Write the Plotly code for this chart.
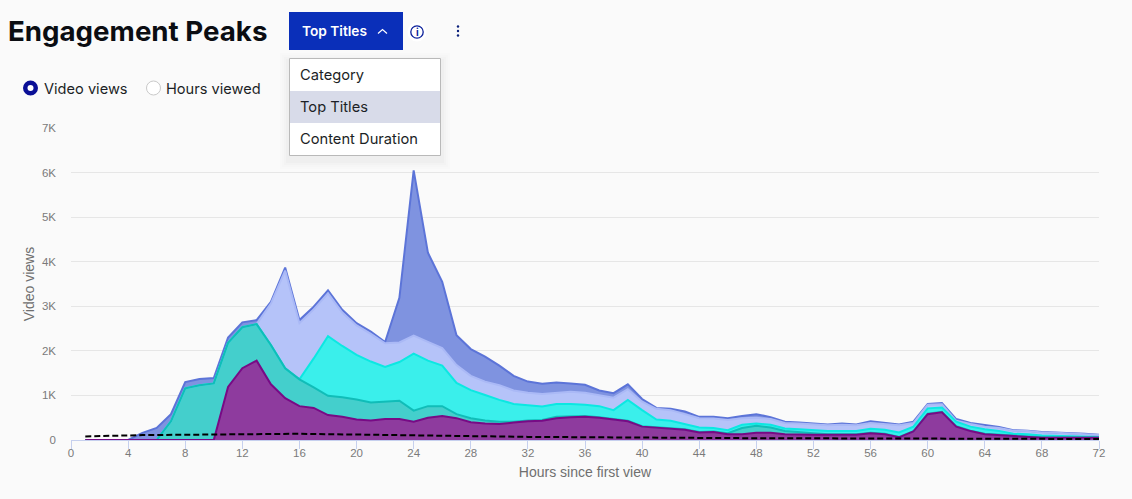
import plotly.graph_objects as go

hours = list(range(1, 73))

purple_top = [0,0,0,0,0,0,0,0,0,0,1.19,1.61,1.78,1.25,.94,.76,.72,.56,.52,.46,.44,.47,.47,.41,.50,.54,.49,.40,.37,.36,.39,.42,.43,.49,.51,.52,.50,.46,.42,.30,.28,.25,.23,.17,.18,.13,.13,.16,.16,.13,.12,.12,.12,.12,.12,.15,.13,.06,.19,.58,.62,.30,.20,.13,.11,.09,.08,.05,.05,.05,.05,.05]
teal_top = [0,0,0,0,0,0,.42,1.16,1.23,1.27,2.18,2.53,2.60,2.13,1.61,1.36,1.18,.99,.96,.91,.84,.86,.88,.66,.76,.76,.58,.49,.44,.41,.41,.44,.45,.52,.53,.54,.51,.47,.43,.31,.29,.26,.24,.18,.19,.15,.27,.32,.28,.20,.17,.15,.13,.13,.13,.16,.14,.07,.20,.59,.63,.31,.21,.14,.12,.10,.09,.06,.06,.06,.06,.06]
cyan_top = [0,0,0,0,0,0,.42,1.16,1.23,1.27,2.18,2.53,2.60,2.13,1.61,1.36,1.83,2.33,2.11,1.91,1.76,1.64,1.75,1.94,1.78,1.67,1.28,1.12,1.01,.90,.81,.78,.75,.81,.81,.79,.76,.67,.90,.67,.46,.43,.36,.28,.27,.22,.34,.37,.34,.26,.24,.22,.20,.20,.20,.25,.23,.17,.30,.71,.73,.41,.30,.24,.20,.14,.13,.10,.09,.08,.08,.07]
periwinkle_top = [0,0,0,0,0,0,.42,1.16,1.23,1.27,2.18,2.53,2.60,3.06,3.80,2.62,2.93,3.29,2.86,2.57,2.38,2.17,2.19,2.34,2.20,2.06,1.68,1.44,1.31,1.23,1.11,1.06,1.03,1.05,1.08,1.06,1.00,.95,1.14,.86,.70,.67,.58,.49,.48,.45,.49,.50,.47,.38,.37,.35,.33,.34,.33,.38,.36,.33,.38,.79,.80,.43,.36,.30,.27,.21,.20,.17,.16,.14,.13,.11]
blue_top = [0,0,0,0,.16,.27,.58,1.30,1.37,1.39,2.30,2.64,2.69,3.10,3.87,2.69,2.99,3.36,2.92,2.62,2.43,2.20,3.19,6.05,4.20,3.55,2.35,2.04,1.87,1.67,1.44,1.31,1.26,1.29,1.27,1.24,1.11,1.05,1.25,.92,.72,.70,.64,.52,.52,.49,.54,.58,.51,.41,.39,.37,.35,.37,.35,.42,.39,.35,.41,.81,.83,.47,.38,.33,.29,.22,.21,.18,.17,.15,.14,.12]
baseline = [.08,.09,.10,.105,.11,.112,.115,.117,.12,.125,.13,.135,.14,.14,.145,.14,.135,.13,.125,.12,.115,.11,.10,.10,.095,.09,.085,.08,.075,.075,.072,.07,.068,.065,.062,.06,.058,.055,.052,.05,.048,.045,.045,.042,.042,.04,.04,.04,.04,.04,.04,.04,.04,.04,.04,.04,.04,.04,.04,.04,.04,.038,.036,.034,.032,.03,.03,.028,.026,.024,.022,.02]

band_names = ["Title A", "Title B", "Title C", "Title D", "Title E"]
band_tops = [purple_top, teal_top, cyan_top, periwinkle_top, blue_top]
fill_colors = ["#8e3b9e", "#44cfcc", "#3aefeb", "#b5c3f9", "#7f93e0"]
line_colors = ["#780a85", "#10bdb8", "#0be8e2", "#aab9f6", "#5c74d8"]

x_ticks = list(range(0, 73, 4))
y_ticks = list(range(0, 8))
y_labels = ["0", "1K", "2K", "3K", "4K", "5K", "6K", "7K"]

W, H = 1132, 499
L, R, T, B = 71, 1099, 128, 440
def px(x): return (x - L) / (R - L)
def py(y): return (B - y) / (B - T)

fig = go.Figure()
for i, (name, top, c) in enumerate(zip(band_names, band_tops, fill_colors)):
    fig.add_trace(go.Scatter(x=hours, y=[v * 1000 for v in top], mode="lines", name=name,
                             line=dict(width=0), fillcolor=c,
                             fill="tozeroy" if i == 0 else "tonexty", showlegend=False))
for name, top, c in reversed(list(zip(band_names, band_tops, line_colors))):
    fig.add_trace(go.Scatter(x=hours, y=[v * 1000 for v in top], mode="lines", name=name,
                             line=dict(width=2, color=c), showlegend=False, hoverinfo="skip"))
fig.add_trace(go.Scatter(x=hours, y=[v * 1000 for v in baseline], mode="lines", name="Baseline",
                         line=dict(width=2, color="#000000", dash="6px,3px"), showlegend=False))

shapes, ann = [], []
def rect(x0, y0, x1, y1, fill, line=None, lw=0, layer="above"):
    shapes.append(dict(type="rect", xref="paper", yref="paper", x0=px(x0), x1=px(x1), y0=py(y0), y1=py(y1),
                       fillcolor=fill, line=dict(color=line or fill, width=lw), layer=layer))
def circle(cx, cy, r, fill, line=None, lw=0):
    shapes.append(dict(type="circle", xref="paper", yref="paper", x0=px(cx - r), x1=px(cx + r),
                       y0=py(cy + r), y1=py(cy - r), fillcolor=fill, line=dict(color=line or fill, width=lw)))
def polyline(pts, color, lw):
    d = "M" + " L".join(f"{px(a):.5f},{py(b):.5f}" for a, b in pts)
    shapes.append(dict(type="path", xref="paper", yref="paper", path=d, line=dict(color=color, width=lw)))
def text(x, y, s, size, color, anchor="left", weight=400, family="Inter"):
    ann.append(dict(xref="paper", yref="paper", x=px(x), y=py(y), text=s, showarrow=False, xanchor=anchor,
                    yanchor="middle", borderpad=0, borderwidth=0,
                    font=dict(size=size, color=color, family=family, weight=weight)))

# header
text(8, 31, "Engagement Peaks", 27.7, "#0b0d12", weight=700)
rect(289, 12, 403, 50, "#0a2fb9")
text(302, 31, "Top Titles", 13.7, "#ffffff", weight=600)
polyline([(378, 33.5), (382.5, 29.5), (387, 33.5)], "#ffffff", 1.2)
circle(417, 32, 9.5, "#ffffff")
circle(417, 32, 6.2, "#ffffff", "#0a1f9a", 1.3)
text(417, 32, "i", 10, "#0a1f9a", anchor="center", weight=700)
for yy in (26.5, 31, 35.5):
    circle(458, yy, 1.2, "#0a1f7a")

# dropdown shadow and menu
for off, a in ((9, .006), (7, .008), (5, .012), (3, .016)):
    rect(289 - off, 58 - off + 4, 441 + off, 156 + off + 4, f"rgba(0,0,0,{a})")
rect(289.5, 58.5, 440.5, 155.5, "#ffffff", "#b9b9b9", 1)
rect(290, 91, 440, 123, "#d8dbe9")
text(300, 75, "Category", 14.7, "#1c1f26")
text(300, 106.5, "Top Titles", 14.7, "#1c1f26")
text(300, 138.5, "Content Duration", 14.7, "#1c1f26")

# radio controls
circle(30.5, 88, 7.5, "#0a0f96")
circle(30.5, 88, 3, "#ffffff")
text(44, 88.5, "Video views", 14.6, "#1c1f26")
circle(153.5, 88, 7, "#ffffff", "#c9c9c9", 1)
text(166, 88.5, "Hours viewed", 14.6, "#1c1f26")

fig.update_layout(
    width=W, height=H, autosize=False,
    margin=dict(l=L, r=W - R, t=T, b=H - B),
    paper_bgcolor="#fafafa", plot_bgcolor="#fafafa",
    font=dict(family="Liberation Sans", size=11.5, color="#7a7a7a"),
    shapes=shapes, annotations=ann, showlegend=False,
    xaxis=dict(range=[0, 72], tickvals=x_ticks, ticks="outside", ticklen=8, tickwidth=1, tickcolor="#c6d0ee",
               showgrid=False, zeroline=False, showline=True, linecolor="#c6d0ee", linewidth=1,
               ticklabelstandoff=-6,
               title=dict(text="Hours since first view", standoff=9, font=dict(size=14, color="#6f6f6f")),
               tickfont=dict(size=11.5, color="#7a7a7a")),
    yaxis=dict(range=[0, 7000], tickvals=[v * 1000 for v in y_ticks], ticktext=y_labels, ticks="",
               showgrid=True, gridcolor="#e6e6e6", gridwidth=1, zeroline=False, showline=False,
               ticklabelstandoff=14,
               title=dict(text="Video views", standoff=4, font=dict(size=14, color="#6f6f6f")),
               tickfont=dict(size=11.5, color="#7a7a7a")),
)
fig.write_html("out.html", config=dict(displayModeBar=False),
               post_script="document.body.style.margin='0';document.body.style.overflow='hidden';")
